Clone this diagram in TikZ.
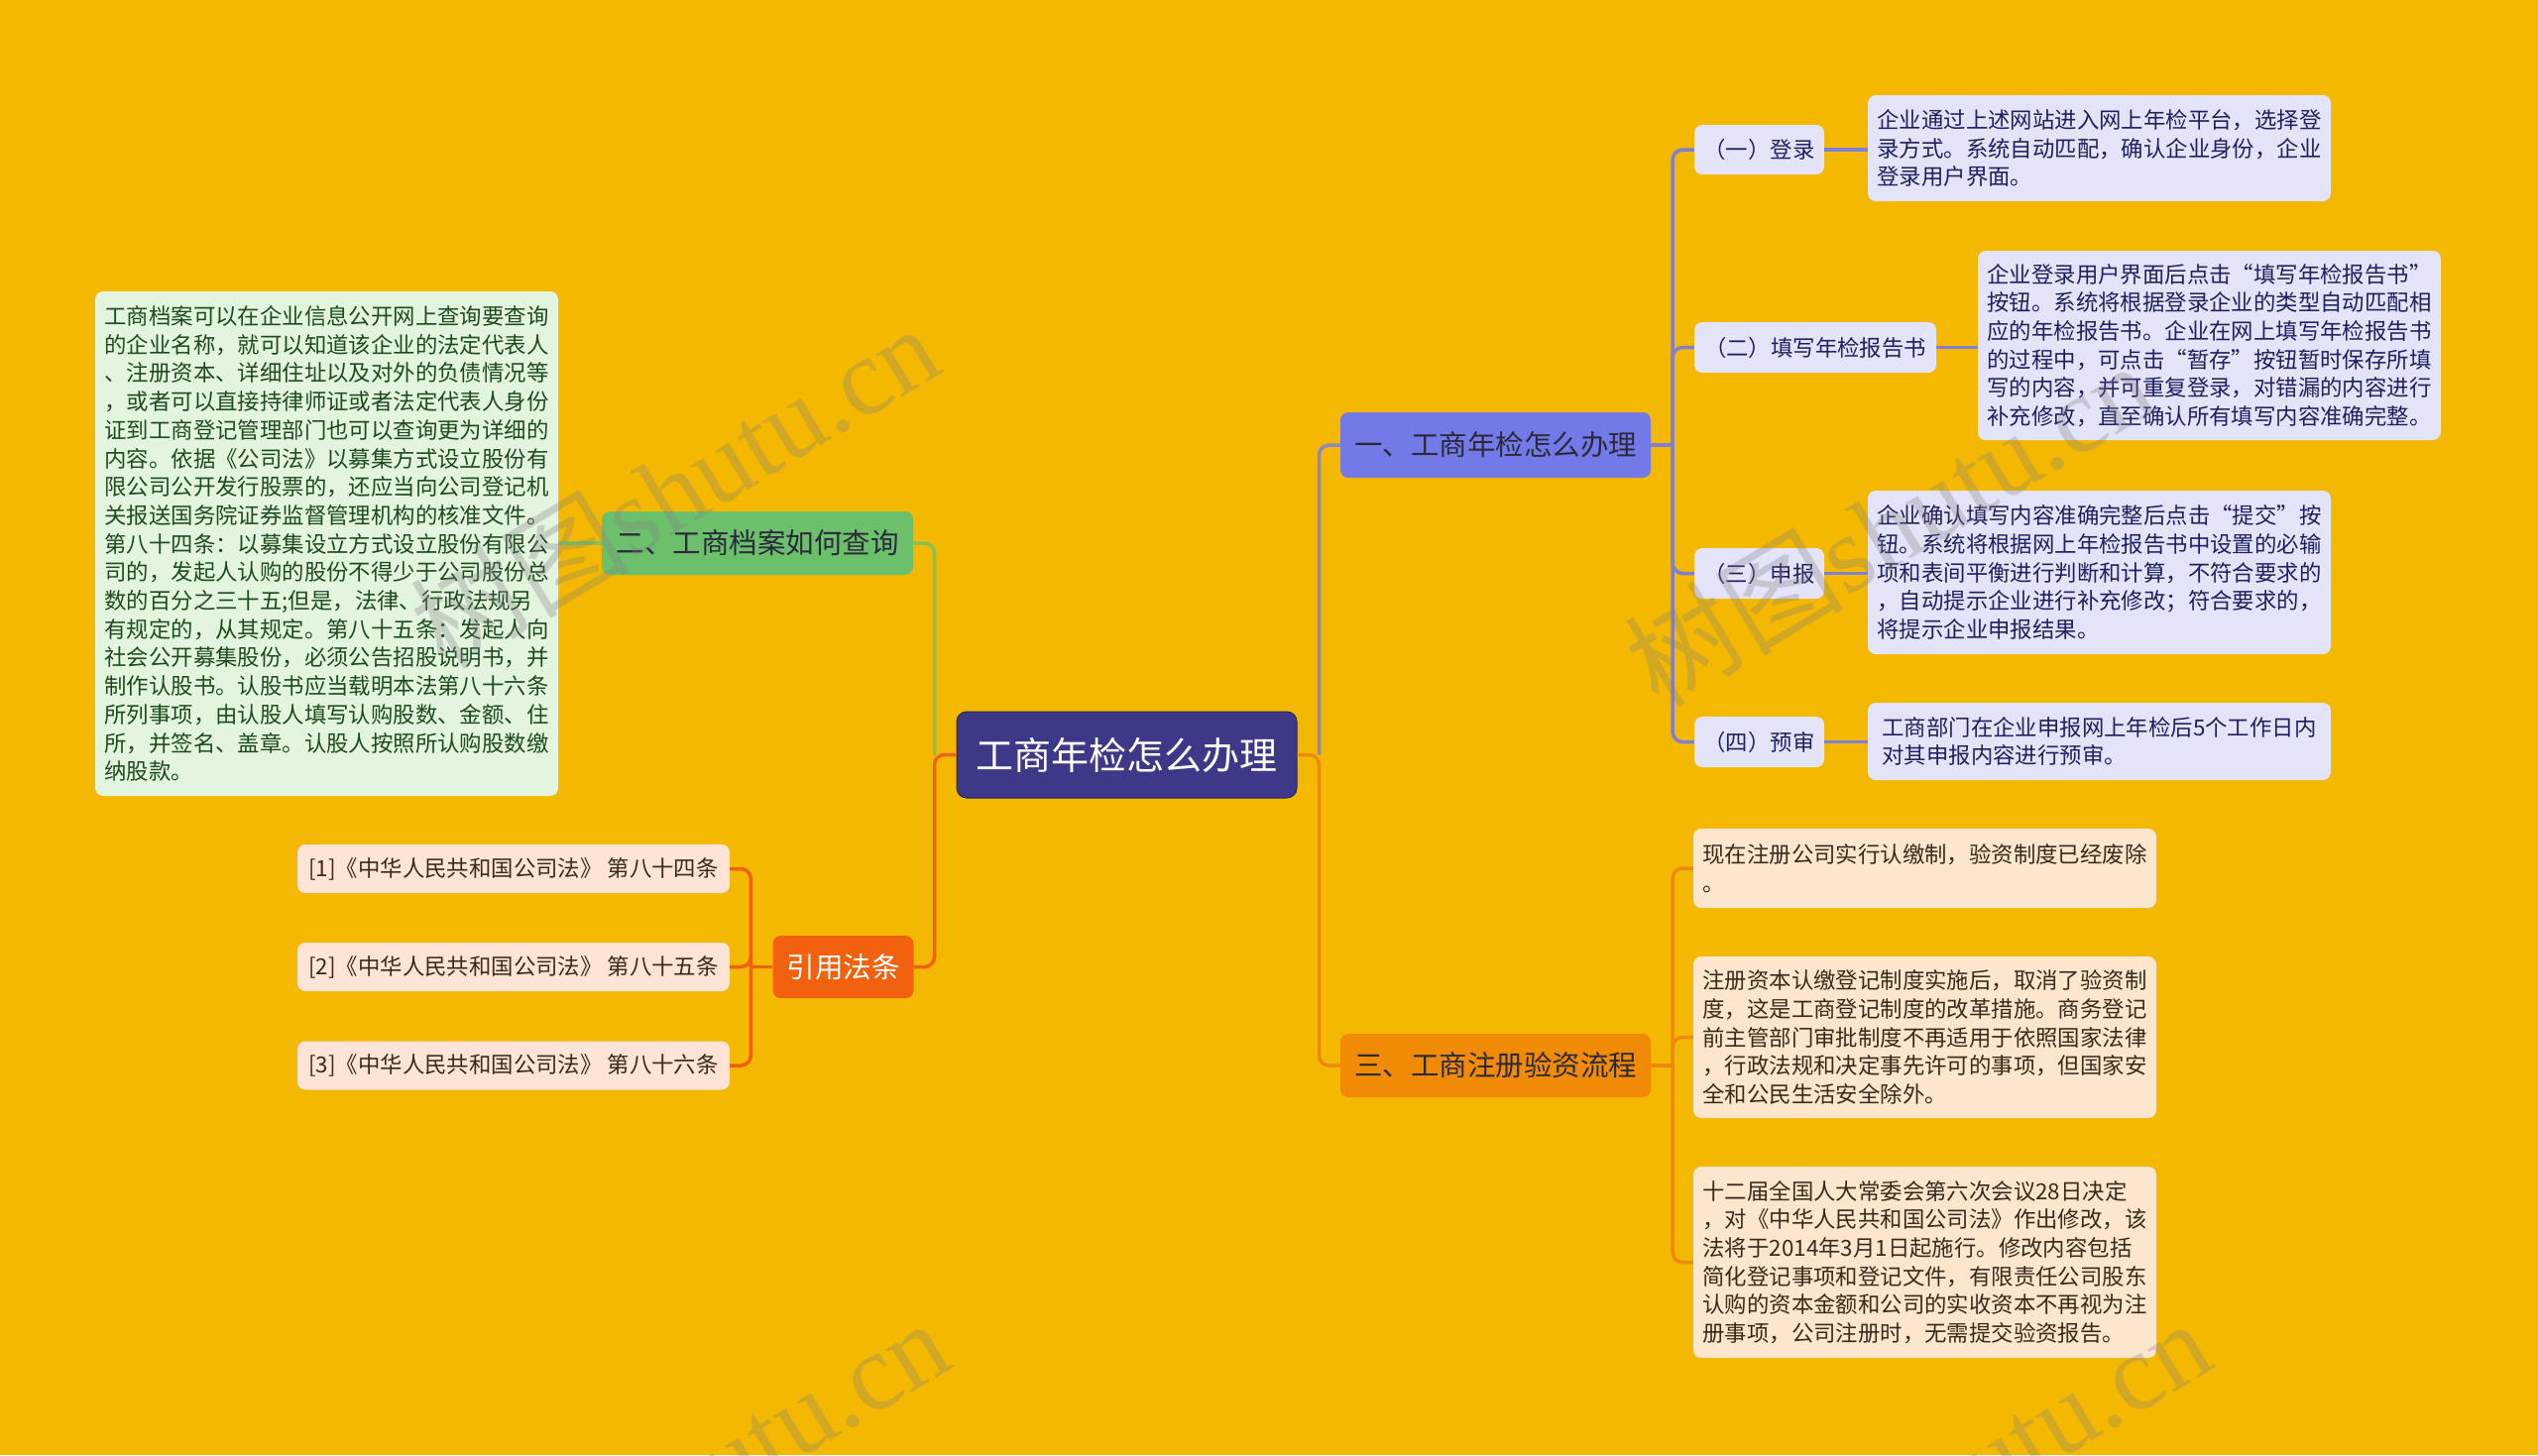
\documentclass[tikz,border=0pt]{standalone}
\usepackage{fontspec}
\setmainfont{Noto Sans CJK SC}
\newfontfamily\wmlat{Liberation Serif}
\definecolor{bgc}{HTML}{F5B800}
\definecolor{rootc}{HTML}{3E3889}
\definecolor{b1c}{HTML}{7479E8}
\definecolor{b2c}{HTML}{6CC06C}
\definecolor{b3c}{HTML}{F18A05}
\definecolor{b4c}{HTML}{F2620E}
\definecolor{lavc}{HTML}{E4E4F8}
\definecolor{peachc}{HTML}{FCE6CE}
\definecolor{refc}{HTML}{FDE4D6}
\definecolor{greenlc}{HTML}{E3F4DF}
\definecolor{lineb}{HTML}{8C87C2}
\definecolor{linesub}{HTML}{7F80D4}
\definecolor{lineg}{HTML}{86C253}
\definecolor{lineo}{HTML}{EE8A0A}
\definecolor{liner}{HTML}{EE620E}
\definecolor{navyt}{HTML}{1E2060}
\definecolor{brownt}{HTML}{3A2A1A}
\definecolor{greent}{HTML}{1F4A1F}
\definecolor{darkt}{HTML}{2A2A3A}
\tikzset{
  box/.style={rounded corners=8pt, inner sep=0pt, align=left, anchor=center},
  small/.style={font=\fontsize{22.4}{28.7}\selectfont},
  big/.style={font=\fontsize{28.5}{34}\selectfont},
  rootbox/.style={box, fill=rootc, draw=rootc!70!black, line width=1pt, text=white, font=\fontsize{38}{44}\selectfont, rounded corners=10pt},
  branch/.style={box, big, text=darkt},
  subbox/.style={box, small, fill=lavc, text=navyt},
  ddet/.style={box, small, fill=lavc, text=navyt, minimum width=467pt},
  edet/.style={box, small, fill=peachc, text=brownt, minimum width=467pt},
  refbox/.style={box, small, fill=refc, text=brownt, minimum width=436pt, minimum height=49pt},
  conn/.style={line width=3.5pt, rounded corners=10pt},
  wm/.style={text=gray, opacity=0.3, inner sep=0pt, font=\fontsize{110}{120}\selectfont}
}
\begin{document}
\begin{tikzpicture}[x=1pt,y=-1pt]
\fill[bgc] (0,0) rectangle (2560,1468);
\useasboundingbox (0,0) rectangle (2560,1468);

% nodes
\node[rootbox, minimum width=343pt, minimum height=87pt] (root) at (1136.5,761.5) {工商年检怎么办理};
\node[branch, fill=b1c, minimum width=313pt, minimum height=66pt] (b1) at (1508.5,449) {一、工商年检怎么办理};
\node[branch, fill=b2c, minimum width=314pt, minimum height=64pt] (b2) at (764,548) {二、工商档案如何查询};
\node[branch, fill=b3c, minimum width=313pt, minimum height=64pt] (b3) at (1508.5,1075) {三、工商注册验资流程};
\node[branch, fill=b4c, text=white, minimum width=142pt, minimum height=63pt] (b4) at (850.5,975.5) {引用法条};

\node[subbox, minimum width=131pt, minimum height=50pt] (s1) at (1774.5,151) {（一）登录};
\node[subbox, minimum width=244pt, minimum height=51pt] (s2) at (1831,350.5) {（二）填写年检报告书};
\node[subbox, minimum width=131pt, minimum height=51pt] (s3) at (1774.5,578.5) {（三）申报};
\node[subbox, minimum width=131pt, minimum height=51pt] (s4) at (1774.5,748.5) {（四）预审};

\node[ddet, minimum height=107pt] (d1) at (2117.5,149.5) {企业通过上述网站进入网上年检平台，选择登\\录方式。系统自动匹配，确认企业身份，企业\\登录用户界面。};
\node[ddet, minimum height=191pt] (d2) at (2228.5,348.5) {企业登录用户界面后点击“填写年检报告书”\\按钮。系统将根据登录企业的类型自动匹配相\\应的年检报告书。企业在网上填写年检报告书\\的过程中，可点击“暂存”按钮暂时保存所填\\写的内容，并可重复登录，对错漏的内容进行\\补充修改，直至确认所有填写内容准确完整。};
\node[ddet, minimum height=165pt] (d3) at (2117.5,577.5) {企业确认填写内容准确完整后点击“提交”按\\钮。系统将根据网上年检报告书中设置的必输\\项和表间平衡进行判断和计算，不符合要求的\\，自动提示企业进行补充修改；符合要求的，\\将提示企业申报结果。};
\node[ddet, minimum height=78pt] (d4) at (2117.5,748) {工商部门在企业申报网上年检后5个工作日内\\对其申报内容进行预审。};

\node[edet, minimum height=80pt] (e1) at (1941.5,876) {现在注册公司实行认缴制，验资制度已经废除\\。};
\node[edet, minimum height=163pt] (e2) at (1941.5,1046.5) {注册资本认缴登记制度实施后，取消了验资制\\度，这是工商登记制度的改革措施。商务登记\\前主管部门审批制度不再适用于依照国家法律\\，行政法规和决定事先许可的事项，但国家安\\全和公民生活安全除外。};
\node[edet, minimum height=193pt] (e3) at (1941.5,1273.5) {十二届全国人大常委会第六次会议28日决定\\，对《中华人民共和国公司法》作出修改，该\\法将于2014年3月1日起施行。修改内容包括\\简化登记事项和登记文件，有限责任公司股东\\认购的资本金额和公司的实收资本不再视为注\\册事项，公司注册时，无需提交验资报告。};

\node[box, small, fill=greenlc, text=greent, minimum width=467pt, minimum height=509pt] (l) at (329.5,548.5) {工商档案可以在企业信息公开网上查询要查询\\的企业名称，就可以知道该企业的法定代表人\\、注册资本、详细住址以及对外的负债情况等\\，或者可以直接持律师证或者法定代表人身份\\证到工商登记管理部门也可以查询更为详细的\\内容。依据《公司法》以募集方式设立股份有\\限公司公开发行股票的，还应当向公司登记机\\关报送国务院证券监督管理机构的核准文件。\\第八十四条：以募集设立方式设立股份有限公\\司的，发起人认购的股份不得少于公司股份总\\数的百分之三十五;但是，法律、行政法规另\\有规定的，从其规定。第八十五条：发起人向\\社会公开募集股份，必须公告招股说明书，并\\制作认股书。认股书应当载明本法第八十六条\\所列事项，由认股人填写认购股数、金额、住\\所，并签名、盖章。认股人按照所认购股数缴\\纳股款。};

\node[refbox] (r1) at (518,876.5) {[1]《中华人民共和国公司法》 第八十四条};
\node[refbox] (r2) at (518,975.5) {[2]《中华人民共和国公司法》 第八十五条};
\node[refbox] (r3) at (518,1075) {[3]《中华人民共和国公司法》 第八十六条};

% connectors (drawn behind via layering order: draw first is fine since lines touch edges)
\coordinate (rt) at ([xshift=22pt]root.east);
\coordinate (lt) at ([xshift=-22pt]root.west);
\coordinate (b1t) at ([xshift=22pt]b1.east);
\coordinate (b3t) at ([xshift=22pt]b3.east);
\coordinate (b4t) at ([xshift=-22pt]b4.west);

\draw[conn, lineb] (rt) |- (b1.west);
\draw[conn, lineo] (root.east) -- (rt) |- (b3.west);
\draw[conn, lineg] (lt) |- (b2.east);
\draw[conn, liner] (root.west) -- (lt) |- (b4.east);

\draw[conn, linesub] (b1.east) -- (b1t);
\draw[conn, linesub] (b1t) |- (s1.west);
\draw[conn, linesub] (b1t) |- (s2.west);
\draw[conn, linesub] (b1t) |- (s3.west);
\draw[conn, linesub] (b1t) |- (s4.west);
\draw[conn, linesub] (s1.east) -- (s1.east -| d1.west);
\draw[conn, linesub] (s2.east) -- (s2.east -| d2.west);
\draw[conn, linesub] (s3.east) -- (s3.east -| d3.west);
\draw[conn, linesub] (s4.east) -- (s4.east -| d4.west);

\draw[conn, lineo] (b3.east) -- (b3t);
\draw[conn, lineo] (b3t) |- (e1.west);
\draw[conn, lineo] (b3t) |- (e2.west);
\draw[conn, lineo] (b3t) |- (e3.west);

\draw[conn, lineg] (b2.west) -- (b2.west -| l.east);

\draw[conn, liner] (b4.west) -- (b4t);
\draw[conn, liner] (b4t) |- (r1.east);
\draw[conn, liner] (b4t) |- (r2.east);
\draw[conn, liner] (b4t) |- (r3.east);

% watermarks
\begin{scope}
\clip (0,0) rectangle (2560,1468);
\node[wm, rotate=31] (wm1) at (680,490) {树图{\wmlat shutu.cn}};
\node[wm, rotate=31] (wm2) at (1905,528) {树图{\wmlat shutu.cn}};
\node[wm, rotate=31] (wm3) at (690,1494) {树图{\wmlat shutu.cn}};
\node[wm, rotate=31] (wm4) at (1963,1494) {树图{\wmlat shutu.cn}};
\end{scope}
\end{tikzpicture}
\end{document}
